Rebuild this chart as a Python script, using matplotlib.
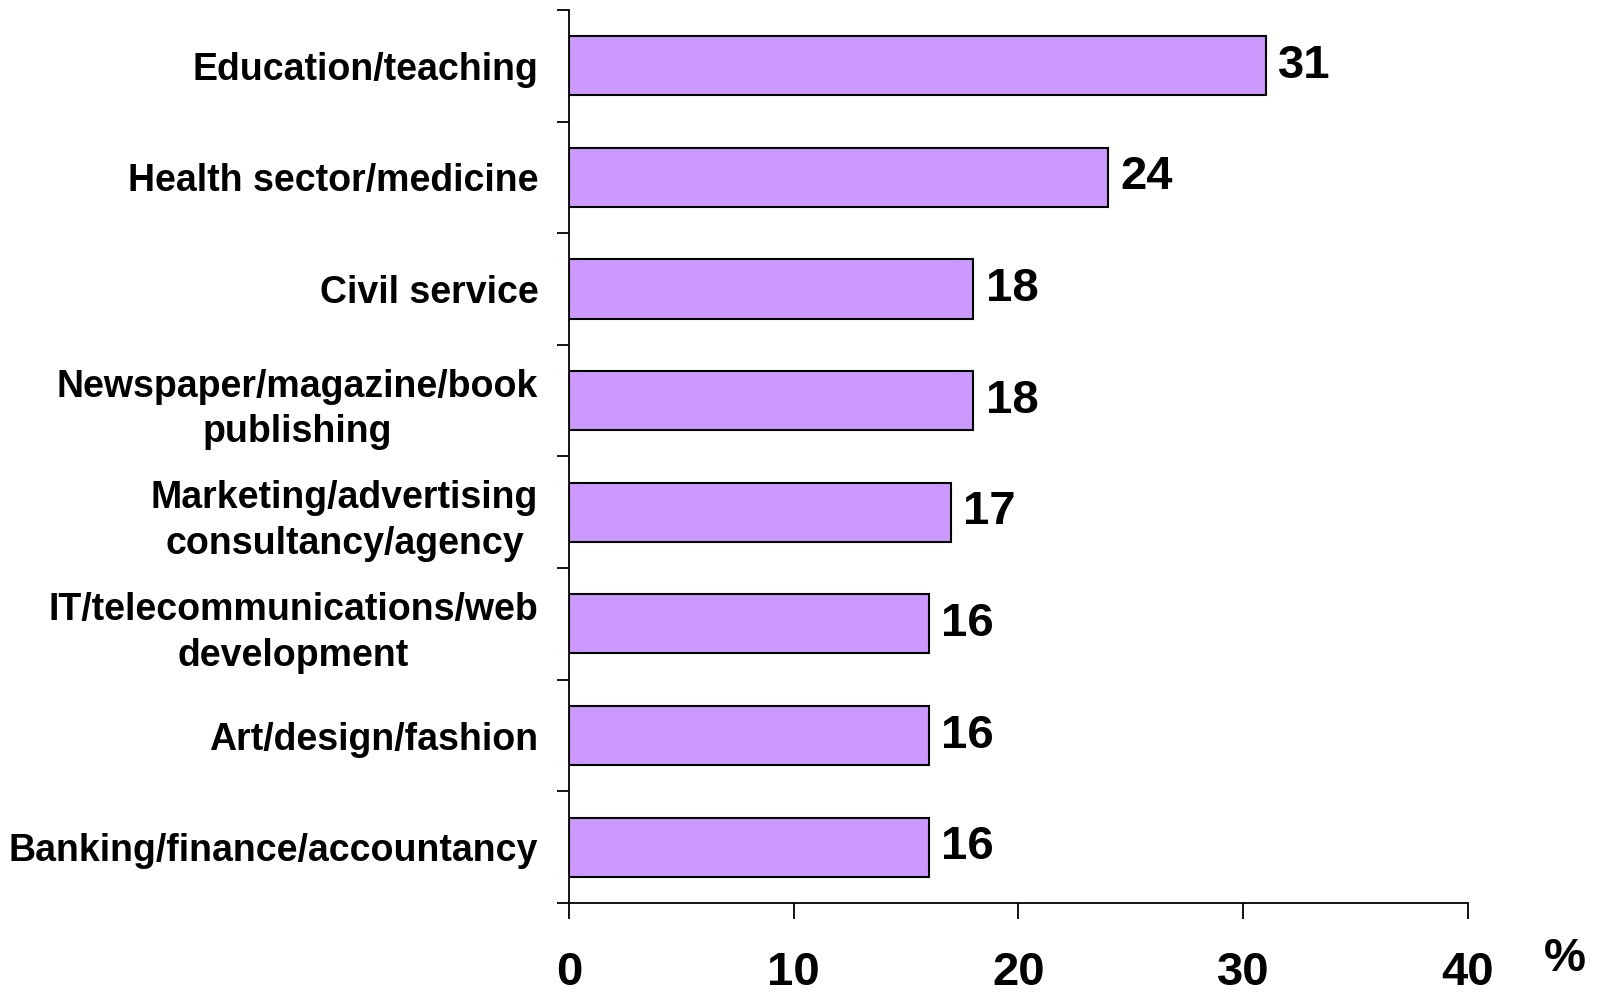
import matplotlib.pyplot as plt
import numpy as np

categories = [
    "Education/teaching",
    "Health sector/medicine",
    "Civil service",
    "Newspaper/magazine/book\npublishing",
    "Marketing/advertising\nconsultancy/agency",
    "IT/telecommunications/web\ndevelopment",
    "Art/design/fashion",
    "Banking/finance/accountancy",
]
values = [31, 24, 18, 18, 17, 16, 16, 16]
x_ticks = [0, 10, 20, 30, 40]

plt.rcParams['font.family'] = ['Liberation Sans', 'DejaVu Sans']
plt.rcParams['font.weight'] = 'bold'

fig = plt.figure(figsize=(15.98, 9.96), dpi=100)
ax = fig.add_axes([0.356, 0.0934, 0.5626, 0.8966])

n = len(categories)
pos = np.arange(n)
ax.barh(pos, values, height=0.53, color='#CC99FF', edgecolor='black', linewidth=1.5)
ax.set_ylim(n - 0.5, -0.5)
ax.set_xlim(0, 40)

for p, v in zip(pos, values):
    ax.text(v + 0.55, p, str(v), va='center', ha='left', fontsize=34, fontweight='bold')

# y axis: ticks at category boundaries, labels at centres
ax.set_yticks(np.arange(n + 1) - 0.5)
ax.set_yticklabels([])
ax.tick_params(axis='y', which='major', direction='out', length=8.6, width=1.3)
ax.set_yticks(pos, minor=True)
ax.set_yticklabels(categories, minor=True, fontsize=27, fontweight='bold',
                   multialignment='center', linespacing=1.35)
ax.tick_params(axis='y', which='minor', length=0, pad=22)

ax.set_xticks(x_ticks)
ax.set_xticklabels([str(t) for t in x_ticks], fontsize=34, fontweight='bold')
ax.tick_params(axis='x', direction='out', length=11.5, width=1.3, pad=23)

for s in ['top', 'right']:
    ax.spines[s].set_visible(False)
for s in ['left', 'bottom']:
    ax.spines[s].set_linewidth(1.3)

fig.text(0.979, 0.037, "%", fontsize=34, fontweight='bold', ha='center', va='center')

fig.savefig("out.png", dpi=100)
